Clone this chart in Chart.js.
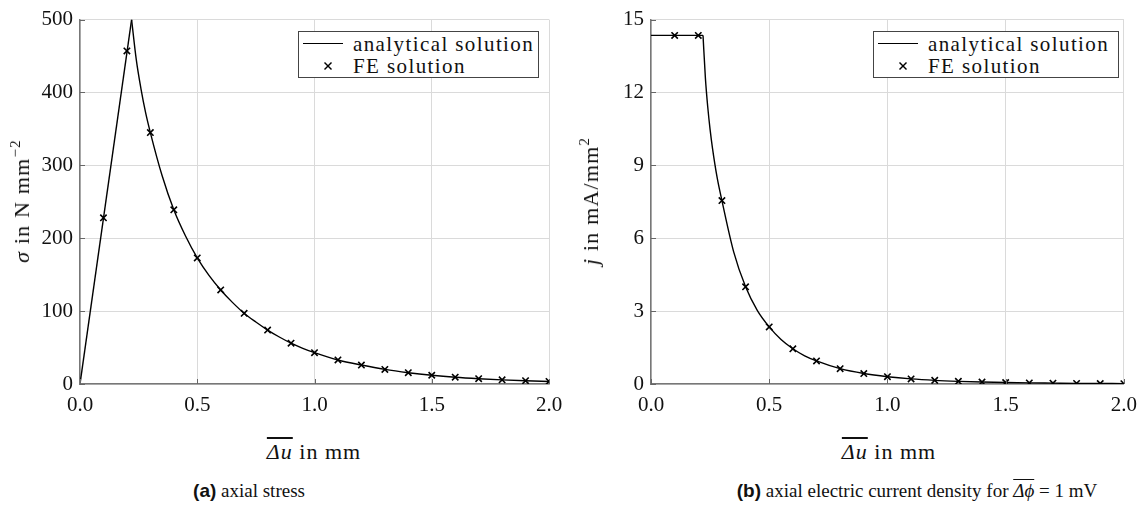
<!DOCTYPE html>
<html>
<head>
<meta charset="utf-8">
<script src="https://cdn.jsdelivr.net/npm/chart.js@4/dist/chart.umd.min.js"></script>
<style>
  html, body { margin: 0; padding: 0; background: #fff; }
  #wrap { position: relative; width: 1146px; height: 507px; overflow: hidden; font-family: "Liberation Serif", "Times New Roman", "DejaVu Serif", "Noto Serif", serif; color: #111; }
  .box { position: absolute; }
  .legend { position: absolute; background: #fff; border: 1px solid #444; box-sizing: border-box; }
  .legend .row { position: absolute; left: 54px; font-size: 21px; letter-spacing: 1.4px; white-space: nowrap; line-height: 1; }
  .legend .ln { position: absolute; left: 4px; width: 40px; height: 0; border-top: 1.5px solid #000; }
  .legend svg { position: absolute; }
  .xt { position: absolute; font-size: 22px; white-space: nowrap; transform: translate(-50%, -50%); letter-spacing: 1px; }
  .yt { position: absolute; font-size: 22px; white-space: nowrap; transform: translate(-50%, -50%) rotate(-90deg); letter-spacing: 1.2px; }
  .cap { position: absolute; font-size: 19px; white-space: nowrap; transform: translate(-50%, -50%); }
  .cap b { font-family: "Liberation Sans", Arial, "DejaVu Sans", sans-serif; font-weight: bold; font-size: 19px; }
  .ov { text-decoration: overline; }
  sup { font-size: 15px; vertical-align: 9px; line-height: 0; }
</style>
</head>
<body>
<div id="wrap">
  <div class="box" style="left:0;top:0;width:575px;height:430px"><canvas id="c1"></canvas></div>
  <div class="box" style="left:571px;top:0;width:575px;height:430px"><canvas id="c2"></canvas></div>

  <div class="legend" style="left:298px;top:31px;width:241px;height:47px">
    <div class="ln" style="top:11px"></div>
    <div class="row" style="top:2px">analytical solution</div>
    <svg style="left:24px;top:29px" width="10" height="10"><line x1="1.5" y1="1.5" x2="8.5" y2="8.5" stroke="#000" stroke-width="1.4"/><line x1="8.5" y1="1.5" x2="1.5" y2="8.5" stroke="#000" stroke-width="1.4"/></svg>
    <div class="row" style="top:24px">FE solution</div>
  </div>
  <div class="legend" style="left:873px;top:31px;width:246px;height:47px">
    <div class="ln" style="top:11px"></div>
    <div class="row" style="top:2px">analytical solution</div>
    <svg style="left:24px;top:29px" width="10" height="10"><line x1="1.5" y1="1.5" x2="8.5" y2="8.5" stroke="#000" stroke-width="1.4"/><line x1="8.5" y1="1.5" x2="1.5" y2="8.5" stroke="#000" stroke-width="1.4"/></svg>
    <div class="row" style="top:24px">FE solution</div>
  </div>

  <div class="yt" style="left:22px;top:201px"><i>σ</i> in N mm<sup>−2</sup></div>
  <div class="yt" style="left:591px;top:201px"><i>j</i> in mA/mm<sup>2</sup></div>
  <div class="xt" style="left:314px;top:452px"><span class="ov"><i>Δu</i></span> in mm</div>
  <div class="xt" style="left:889px;top:452px"><span class="ov"><i>Δu</i></span> in mm</div>
  <div class="cap" style="left:249px;top:491px"><b>(a)</b> axial stress</div>
  <div class="cap" style="left:917px;top:491px"><b>(b)</b> axial electric current density for <span class="ov"><i>Δϕ</i></span> = 1 mV</div>
</div>

<script>
// ---------- data ----------
const xFE = [0.1, 0.2, 0.3, 0.4, 0.5, 0.6, 0.7, 0.8, 0.9, 1.0, 1.1, 1.2, 1.3, 1.4, 1.5, 1.6, 1.7, 1.8, 1.9, 2.0];
const sigmaFE = [228, 457, 345, 239, 173, 129, 97, 74, 56, 43, 33, 26, 20, 15.5, 12, 9.3, 7.3, 5.7, 4.5, 3.5];
const jFE = [14.35, 14.35, 7.55, 4.0, 2.35, 1.45, 0.95, 0.63, 0.43, 0.30, 0.21, 0.15, 0.11, 0.08, 0.06, 0.045, 0.035, 0.025, 0.02, 0.015];

const xSigmaRise = [0, 0.22];
const sigmaRise = [0, 500];
const xSigmaDecay = [0.22, 0.24, 0.26, 0.28, 0.30, 0.35, 0.40, 0.45, 0.50, 0.55, 0.60, 0.65, 0.70, 0.75, 0.80, 0.85, 0.90, 0.95, 1.0, 1.1, 1.2, 1.3, 1.4, 1.5, 1.6, 1.7, 1.8, 1.9, 2.0];
const sigmaDecay = [500, 445, 405, 372, 345, 286, 239, 203, 173, 149, 129, 112, 97, 85, 74, 64.5, 56, 49, 43, 33, 26, 20, 15.5, 12, 9.3, 7.3, 5.7, 4.5, 3.5];

const xJFlat = [0, 0.22];
const jFlat = [14.35, 14.35];
const xJDecay = [0.22, 0.23, 0.24, 0.25, 0.26, 0.28, 0.30, 0.35, 0.40, 0.45, 0.50, 0.55, 0.60, 0.65, 0.70, 0.80, 0.90, 1.0, 1.1, 1.2, 1.3, 1.4, 1.5, 1.6, 1.7, 1.8, 1.9, 2.0];
const jDecay = [14.35, 12.6, 11.4, 10.47, 9.71, 8.48, 7.55, 5.43, 4.0, 3.02, 2.35, 1.83, 1.45, 1.16, 0.95, 0.63, 0.43, 0.30, 0.21, 0.15, 0.11, 0.08, 0.06, 0.045, 0.035, 0.025, 0.02, 0.015];

const xTicks = [0, 0.5, 1.0, 1.5, 2.0];
const sigmaTicks = [0, 100, 200, 300, 400, 500];
const jTicks = [0, 3, 6, 9, 12, 15];

// ---------- helpers ----------
const pts = (xs, ys) => xs.map((x, i) => ({ x: x, y: ys[i] }));

const innerTicks = {
  id: 'innerTicks',
  afterDatasetsDraw(chart) {
    const ctx = chart.ctx, xs = chart.scales.x, ys = chart.scales.y, a = chart.chartArea;
    ctx.save();
    ctx.strokeStyle = '#666';
    ctx.lineWidth = 1;
    xs.ticks.forEach(t => {
      const p = Math.round(xs.getPixelForValue(t.value)) + 0.5;
      ctx.beginPath(); ctx.moveTo(p, a.bottom); ctx.lineTo(p, a.bottom - 5); ctx.stroke();
    });
    ys.ticks.forEach(t => {
      const p = Math.round(ys.getPixelForValue(t.value)) + 0.5;
      ctx.beginPath(); ctx.moveTo(a.left, p); ctx.lineTo(a.left + 5, p); ctx.stroke();
    });
    ctx.restore();
  }
};

function makeChart(id, lineA, lineB, fe, yTicks, yMax, rightPad) {
  const font = { family: '"Liberation Serif", "Times New Roman", "DejaVu Serif", "Noto Serif", serif', size: 21 };
  return new Chart(document.getElementById(id), {
    type: 'scatter',
    data: {
      datasets: [
        { data: lineA, showLine: true, borderColor: '#000', borderWidth: 1.4, pointRadius: 0, tension: 0 },
        { data: lineB, showLine: true, borderColor: '#000', borderWidth: 1.4, pointRadius: 0, cubicInterpolationMode: 'monotone' },
        { data: fe, showLine: false, pointStyle: 'crossRot', pointRadius: 4.5, borderColor: '#000', backgroundColor: '#000', pointBorderWidth: 1.6 }
      ]
    },
    options: {
      responsive: true,
      maintainAspectRatio: false,
      animation: false,
      layout: { padding: { top: 19, right: rightPad, left: 0, bottom: 0 } },
      plugins: { legend: { display: false }, tooltip: { enabled: false } },
      scales: {
        x: {
          type: 'linear', min: 0, max: 2,
          afterBuildTicks: s => { s.ticks = xTicks.map(v => ({ value: v })); },
          afterFit: s => { s.height = 46; },
          ticks: { font: font, color: '#111', padding: 9, autoSkip: false, maxRotation: 0, callback: v => Number(v).toFixed(1) },
          grid: { color: '#dadada', lineWidth: 1, drawTicks: false },
          border: { color: '#777', width: 1.5 }
        },
        y: {
          type: 'linear', min: 0, max: yMax,
          afterBuildTicks: s => { s.ticks = yTicks.map(v => ({ value: v })); },
          afterFit: s => { s.width = 80; },
          ticks: { font: font, color: '#111', padding: 7, autoSkip: false },
          grid: { color: '#dadada', lineWidth: 1, drawTicks: false },
          border: { color: '#777', width: 1.5 }
        }
      }
    },
    plugins: [innerTicks]
  });
}

makeChart('c1', pts(xSigmaRise, sigmaRise), pts(xSigmaDecay, sigmaDecay), pts(xFE, sigmaFE), sigmaTicks, 500, 26);
makeChart('c2', pts(xJFlat, jFlat), pts(xJDecay, jDecay), pts(xFE, jFE), jTicks, 15, 16);
</script>
</body>
</html>
